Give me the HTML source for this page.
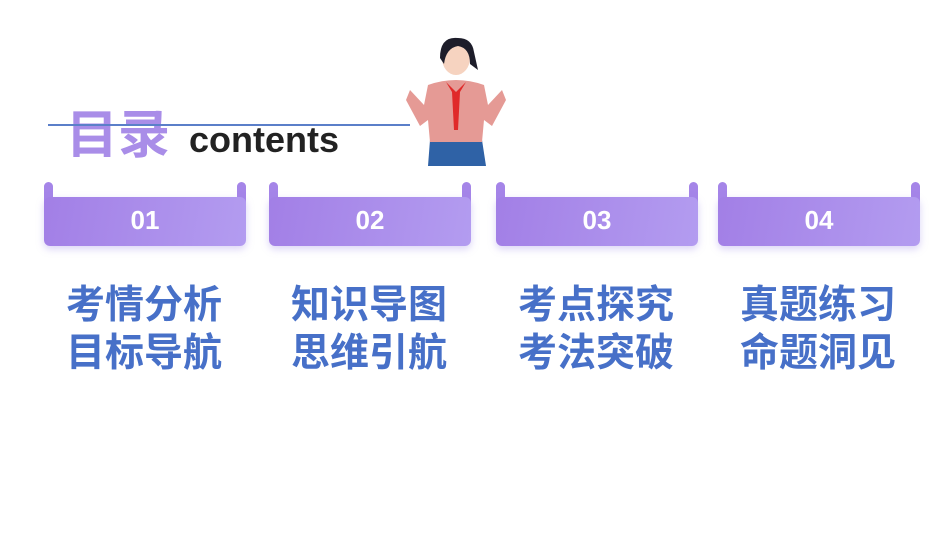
<!DOCTYPE html>
<html><head><meta charset="utf-8"><style>
body{margin:0;width:950px;height:535px;background:#fff;position:relative;overflow:hidden;font-family:"Liberation Sans","Noto Sans CJK SC",sans-serif}
.a{position:absolute}
.tab{position:absolute;top:182px;width:202px;height:64px}
.tab .b{position:absolute;left:0;top:15px;width:202px;height:49px;border-radius:6px;background:linear-gradient(100deg,#a27fe6,#b39cf0);box-shadow:0 3px 8px rgba(150,130,230,.35);color:#fff;font-weight:bold;font-size:26px;text-align:center;line-height:46px}
.tab .l,.tab .r{position:absolute;top:0;width:9px;height:26px;background:#a585e8;border-radius:5px}
.tab .l{left:0}.tab .r{right:0}
.t{position:absolute;font-size:39px;font-weight:bold;color:#4770c8;line-height:48px;text-align:center;width:200px}
</style></head><body>
<div class="a" style="left:66px;top:104px;font-size:52px;font-weight:bold;color:#a98de8;line-height:64px">目录</div>
<div class="a" style="left:189px;top:118px;font-size:36px;font-weight:bold;color:#222;line-height:44px">contents</div>
<div class="a" style="left:48px;top:124px;width:362px;height:2px;background:#5b7fc9"></div>

<div class="tab" style="left:44px"><div class="l"></div><div class="r"></div><div class="b">01</div></div>
<div class="tab" style="left:269px"><div class="l"></div><div class="r"></div><div class="b">02</div></div>
<div class="tab" style="left:496px"><div class="l"></div><div class="r"></div><div class="b">03</div></div>
<div class="tab" style="left:718px"><div class="l"></div><div class="r"></div><div class="b">04</div></div>

<div class="t" style="left:44px;top:282px">考情分析<br>目标导航</div>
<div class="t" style="left:269px;top:282px">知识导图<br>思维引航</div>
<div class="t" style="left:496px;top:282px">考点探究<br>考法突破</div>
<div class="t" style="left:718px;top:282px">真题练习<br>命题洞见</div>

<svg class="a" style="left:400px;top:30px" width="110" height="140" viewBox="0 0 110 140">
<path d="M30 110 L82 110 L86 136 L28 136 Z" fill="#2f62a6"/>
<path d="M28 55 Q56 45 84 55 L88 75 L102 60 L106 70 L92 96 L84 90 L82 112 L30 112 L28 90 L20 96 L6 70 L10 60 L24 75 Z" fill="#e59a95"/>
<path d="M46 52 L56 62 L66 52 L60 62 L58 100 L54 100 L52 62 Z" fill="#e02a2a"/>
<ellipse cx="56" cy="28" rx="14" ry="17" fill="#f6d3c0"/>
<path d="M40 28 Q40 6 58 8 Q72 8 74 22 L78 40 L70 34 Q70 18 58 16 Q46 18 44 34 Z" fill="#1d1d2a"/>
</svg>
</body></html>
